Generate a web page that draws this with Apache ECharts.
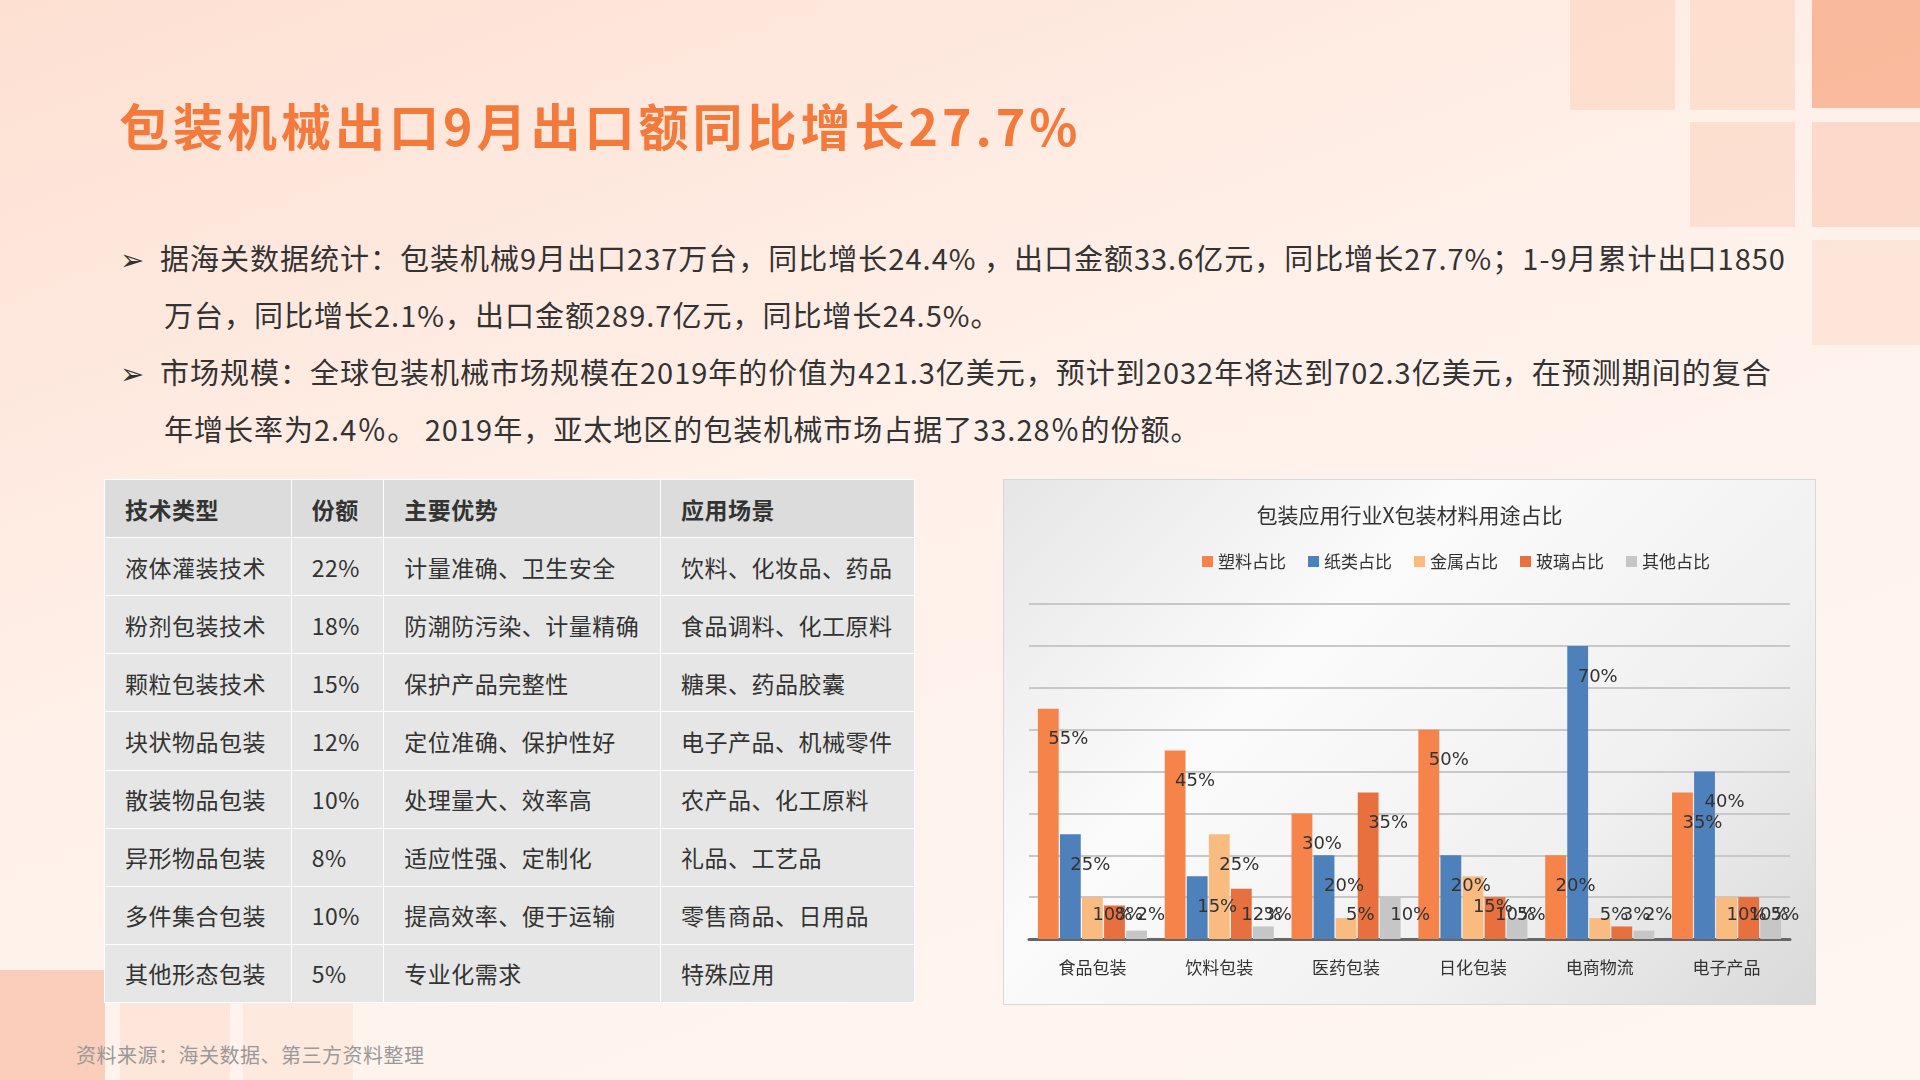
<!DOCTYPE html>
<html>
<head>
<meta charset="utf-8">
<script src="https://cdn.jsdelivr.net/npm/echarts@6/dist/echarts.min.js"></script>
<style>
  body { margin: 0; width: 1920px; height: 1080px; overflow: hidden; font-family: "Noto Sans CJK SC", sans-serif;
    background: linear-gradient(160deg, #fde0d2 0%, #fff1ea 45%, #fff6f2 100%); position: relative; }
  .sq { position: absolute; background: #fbd3bf; opacity: 0.6; }
  h1 { position: absolute; left: 119px; top: 88px; margin: 0; font-size: 50px; font-weight: 700; color: #f47a3c; letter-spacing: 4px; }
  .bul { position: absolute; left: 120px; width: 1670px; font-size: 29px; color: #333; line-height: 57px; letter-spacing: 1px; }
  .bul p { margin: 0; padding-left: 44px; text-indent: -44px; }
  table { position: absolute; left: 104px; top: 479px; width: 811px; height: 524px; border-collapse: collapse; font-size: 23px; color: #333; background: #e6e6e6; letter-spacing: 0.5px; }
  td { border: 1px solid #fff; padding-left: 20px; }
  tr:first-child td { font-weight: 700; background: #dcdcdc; }
  #chart { position: absolute; left: 1003px; top: 479px; width: 811px; height: 524px; border: 1px solid #d8d8d8;
    background: linear-gradient(135deg, #e6e6e6 0%, #fbfbfb 35%, #f0f0f0 70%, #d9d9d9 100%); }
  .src { position: absolute; left: 76px; top: 1040px; font-size: 20px; color: #999; letter-spacing: 0.5px; }
</style>
</head>
<body>
<div class="sq" style="left:1570px;top:0;width:105px;height:110px"></div>
<div class="sq" style="left:1690px;top:0;width:105px;height:110px"></div>
<div class="sq" style="left:1812px;top:0;width:108px;height:108px;background:#f7a27c;opacity:.7"></div>
<div class="sq" style="left:1690px;top:122px;width:105px;height:105px"></div>
<div class="sq" style="left:1812px;top:122px;width:108px;height:105px;opacity:.8"></div>
<div class="sq" style="left:1812px;top:240px;width:108px;height:105px;opacity:.4"></div>
<div class="sq" style="left:0;top:970px;width:105px;height:110px;background:#f7b59a"></div>
<div class="sq" style="left:120px;top:1003px;width:110px;height:77px;opacity:.4"></div>
<div class="sq" style="left:243px;top:1003px;width:110px;height:77px;opacity:.3"></div>

<h1>包装机械出口9月出口额同比增长27.7%</h1>
<div class="bul" style="top:229px">
  <p>➢&nbsp;&nbsp;据海关数据统计：包装机械9月出口237万台，同比增长24.4% ，出口金额33.6亿元，同比增长27.7%；1-9月累计出口1850万台，同比增长2.1%，出口金额289.7亿元，同比增长24.5%。</p>
  <p>➢&nbsp;&nbsp;市场规模：全球包装机械市场规模在2019年的价值为421.3亿美元，预计到2032年将达到702.3亿美元，在预测期间的复合年增长率为2.4％。 2019年，亚太地区的包装机械市场占据了33.28％的份额。</p>
</div>

<table id="tbl"></table>
<div id="chart"></div>
<div class="src">资料来源：海关数据、第三方资料整理</div>

<script>
const tableHead = ["技术类型", "份额", "主要优势", "应用场景"];
const techTypes = ["液体灌装技术", "粉剂包装技术", "颗粒包装技术", "块状物品包装", "散装物品包装", "异形物品包装", "多件集合包装", "其他形态包装"];
const shares = ["22%", "18%", "15%", "12%", "10%", "8%", "10%", "5%"];
const advantages = ["计量准确、卫生安全", "防潮防污染、计量精确", "保护产品完整性", "定位准确、保护性好", "处理量大、效率高", "适应性强、定制化", "提高效率、便于运输", "专业化需求"];
const scenes = ["饮料、化妆品、药品", "食品调料、化工原料", "糖果、药品胶囊", "电子产品、机械零件", "农产品、化工原料", "礼品、工艺品", "零售商品、日用品", "特殊应用"];

const categories = ["食品包装", "饮料包装", "医药包装", "日化包装", "电商物流", "电子产品"];
const seriesNames = ["塑料占比", "纸类占比", "金属占比", "玻璃占比", "其他占比"];
const plastic = [55, 45, 30, 50, 20, 35];
const paper = [25, 15, 20, 20, 70, 40];
const metal = [10, 25, 5, 15, 5, 10];
const glass = [8, 12, 35, 10, 3, 10];
const other = [2, 3, 10, 5, 2, 5];
const colors = ["#f5834a", "#4e80bb", "#f9bb80", "#e8703f", "#c6c6c6"];

// table
const widths = [187, 91, 278, 255];
let html = "<tr>" + tableHead.map((h, i) => `<td style="width:${widths[i] - 20}px">${h}</td>`).join("") + "</tr>";
techTypes.forEach((t, i) => {
  html += `<tr><td>${t}</td><td>${shares[i]}</td><td>${advantages[i]}</td><td>${scenes[i]}</td></tr>`;
});
document.getElementById("tbl").innerHTML = html;

const myChart = echarts.init(document.getElementById("chart"));
myChart.setOption({
  title: {
    text: "包装应用行业X包装材料用途占比",
    left: "center",
    top: 20,
    textStyle: { fontSize: 21, fontWeight: "normal", color: "#333", fontFamily: "Noto Sans CJK SC" },
  },
  legend: {
    data: seriesNames,
    top: 68,
    left: 193,
    icon: "rect",
    itemWidth: 11,
    itemHeight: 11,
    itemGap: 22,
    textStyle: { fontSize: 17, color: "#333", fontFamily: "Noto Sans CJK SC" },
  },
  grid: { left: 25, right: 25, top: 124, bottom: 65 },
  xAxis: {
    type: "category",
    data: categories,
    axisLine: { lineStyle: { color: "#666", width: 3 } },
    axisTick: { show: false },
    axisLabel: { fontSize: 17, color: "#333", margin: 20, fontFamily: "Noto Sans CJK SC" },
  },
  yAxis: {
    type: "value",
    min: 0,
    max: 80,
    interval: 10,
    axisLabel: { show: false },
    axisLine: { show: false },
    axisTick: { show: false },
    splitLine: { lineStyle: { color: "#c8c8c8", width: 2 } },
  },
  series: [plastic, paper, metal, glass, other].map((d, i) => ({
    name: seriesNames[i],
    type: "bar",
    data: d,
    barGap: "6%",
    barCategoryGap: "14%",
    itemStyle: { color: colors[i] },
    label: {
      show: true,
      position: "insideTop",
      formatter: "{c}%",
      fontSize: 18,
      color: "#333",
      fontFamily: "DejaVu Sans",
    },
    labelLayout: (p) => ({ y: Math.min(p.rect.y + 22, 426) }),
  })),
});
</script>
</body>
</html>
